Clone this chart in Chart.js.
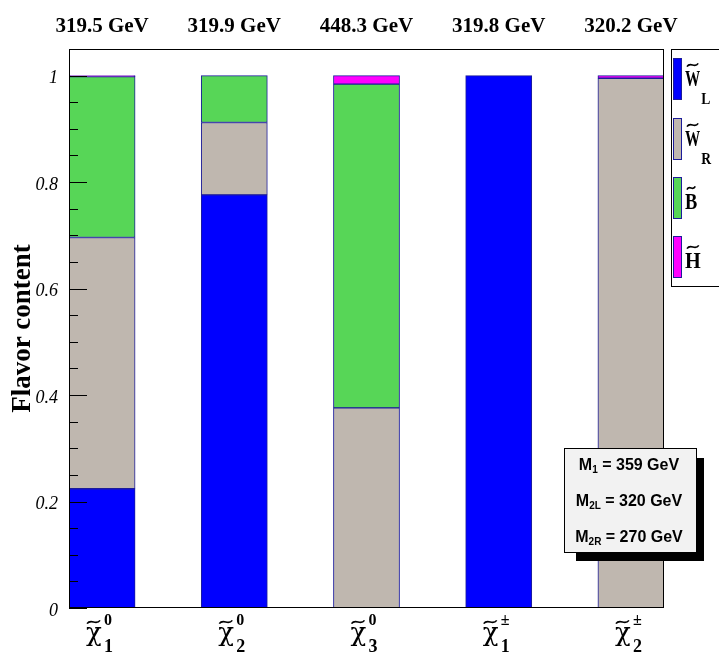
<!DOCTYPE html>
<html>
<head>
<meta charset="utf-8">
<script src="https://cdn.jsdelivr.net/npm/chart.js@4.4.0/dist/chart.umd.min.js"></script>
<style>
html, body { margin: 0; padding: 0; background: #fff; }
#wrap { width: 719px; height: 653px; position: relative; }
</style>
</head>
<body>
<div id="wrap"><canvas id="flavorChart"></canvas></div>
<script>
// particles: chi~ with superscript / subscript
var supLabels = ['0', '0', '0', '\u00b1', '\u00b1'];
var subLabels = ['1', '2', '3', '1', '2'];
var masses = ['319.5 GeV', '319.9 GeV', '448.3 GeV', '319.8 GeV', '320.2 GeV'];

// flavor content of each state
var winoL = [0.224, 0.776, 0, 1.0, 0];
var winoR = [0.472, 0.136, 0.376, 0, 0.995];
var bino = [0.302, 0.088, 0.608, 0, 0];
var higgsino = [0.002, 0, 0.016, 0, 0.005];

var yTicks = [0, 0.2, 0.4, 0.6, 0.8, 1];

var legendBase = ['W', 'W', 'B', 'H'];
var legendSub = ['L', 'R', '', ''];

var paramName = ['M', 'M', 'M'];
var paramSub = ['1', '2L', '2R'];
var paramValue = [' = 359 GeV', ' = 320 GeV', ' = 270 GeV'];

var colors = ['#0000ff', '#bfb7af', '#57d657', '#ff00ff'];
var edge = '#1c1c9a';
var serif = '"Liberation Serif", "Times New Roman", serif';
var sans = '"Liberation Sans", Arial, sans-serif';

// every bar is followed by an empty slot of the same width
function toSlots(arr) {
    var out = [];
    arr.forEach(function (v, i) {
        out.push(v);
        if (i < arr.length - 1) out.push(null);
    });
    return out;
}

function tilde(ctx, x0, x1, cy) {
    var w = x1 - x0, a = 1.6;
    ctx.save();
    ctx.lineWidth = 1.6;
    ctx.strokeStyle = '#000';
    ctx.beginPath();
    ctx.moveTo(x0, cy + a);
    ctx.bezierCurveTo(x0 + w * 0.3, cy - a * 2.4, x0 + w * 0.7, cy + a * 2.4, x1, cy - a);
    ctx.stroke();
    ctx.restore();
}

// letter squeezed horizontally, returns drawn width
function squeezed(ctx, txt, x0, base, sx) {
    var w = ctx.measureText(txt).width * sx;
    ctx.save();
    ctx.translate(x0, base);
    ctx.scale(sx, 1);
    ctx.fillText(txt, 0, 0);
    ctx.restore();
    return w;
}

var decorPlugin = {
    id: 'decor',
    afterDatasetsDraw: function (chart) {
        var ctx = chart.ctx, a = chart.chartArea, y = chart.scales.y;
        ctx.save();
        ctx.strokeStyle = '#000';
        ctx.lineWidth = 1;
        // inner ticks, minor every 0.05
        for (var k = 0; k <= 20; k++) {
            var py = Math.round(y.getPixelForValue(k * 0.05)) + 0.5;
            var len = (k % 4 === 0) ? 18 : 9;
            ctx.beginPath();
            ctx.moveTo(a.left, py);
            ctx.lineTo(a.left + len, py);
            ctx.stroke();
        }
        // frame
        ctx.strokeRect(a.left + 0.5, a.top + 0.5, a.right - a.left - 1, a.bottom - a.top - 1);
        ctx.restore();
    },
    afterDraw: function (chart) {
        var ctx = chart.ctx, x = chart.scales.x;
        ctx.save();
        ctx.fillStyle = '#000';

        // masses above the bars
        ctx.font = 'bold 21px ' + serif;
        ctx.textAlign = 'center';
        ctx.textBaseline = 'alphabetic';
        masses.forEach(function (m, i) {
            ctx.fillText(m, x.getPixelForValue(2 * i), 32);
        });

        // particle names below the bars
        ctx.textAlign = 'left';
        supLabels.forEach(function (sup, i) {
            var cx = x.getPixelForValue(2 * i);
            ctx.font = '26px "DejaVu Serif", serif';
            ctx.fillText('\u03c7', cx - 16, 641);
            tilde(ctx, cx - 15, cx - 2, 622);
            ctx.font = 'bold 16px ' + serif;
            ctx.fillText(sup, cx + 2, 625);
            ctx.font = 'bold 18px ' + serif;
            ctx.fillText(subLabels[i], cx + 2, 652);
        });

        // legend
        ctx.fillStyle = '#fff';
        ctx.fillRect(671.5, 49.5, 60, 237);
        ctx.strokeStyle = '#000';
        ctx.lineWidth = 1;
        ctx.strokeRect(671.5, 49.5, 60, 237);
        var tops = [58, 118, 177, 236];
        var squeeze = { W: 0.66, B: 0.8, H: 0.88 };
        legendBase.forEach(function (b, i) {
            var t = tops[i];
            ctx.fillStyle = colors[i];
            ctx.fillRect(673, t, 9, 42);
            ctx.strokeStyle = edge;
            ctx.strokeRect(673.5, t + 0.5, 8, 41);
            ctx.fillStyle = '#000';
            var base = t + (legendSub[i] ? 28 : 32);
            ctx.font = 'bold 23px ' + serif;
            var w = squeezed(ctx, b, 685, base, squeeze[b]);
            tilde(ctx, 687, 685 + w - 2, base - 21);
            if (legendSub[i]) {
                ctx.font = 'bold 16px ' + serif;
                squeezed(ctx, legendSub[i], 685 + w + 1, base + 18, 0.85);
            }
        });

        // parameter box with shadow
        ctx.fillStyle = '#000';
        ctx.fillRect(576, 458, 128, 103);
        ctx.fillStyle = '#f2f2f2';
        ctx.fillRect(564, 448, 133, 105);
        ctx.strokeStyle = '#000';
        ctx.strokeRect(564.5, 448.5, 132, 104);
        var bases = [470, 506, 542];
        paramName.forEach(function (n, i) {
            ctx.font = 'bold 16px ' + sans;
            var w1 = ctx.measureText(n).width;
            var w3 = ctx.measureText(paramValue[i]).width;
            ctx.font = 'bold 10px ' + sans;
            var w2 = ctx.measureText(paramSub[i]).width;
            var x0 = 629 - (w1 + w2 + w3) / 2;
            ctx.fillStyle = '#000';
            ctx.font = 'bold 16px ' + sans;
            ctx.fillText(n, x0, bases[i]);
            ctx.fillText(paramValue[i], x0 + w1 + w2, bases[i]);
            ctx.font = 'bold 10px ' + sans;
            ctx.fillText(paramSub[i], x0 + w1, bases[i] + 3);
        });
        ctx.restore();
    }
};

function makeSet(label, values, color) {
    return {
        label: label,
        data: toSlots(values),
        backgroundColor: color,
        borderColor: edge,
        borderWidth: 1,
        borderSkipped: false,
        barPercentage: 1,
        categoryPercentage: 1
    };
}

var ctxFlavor = document.getElementById('flavorChart').getContext('2d');
var chartFlavor = new Chart(ctxFlavor, {
    type: 'bar',
    data: {
        labels: toSlots(masses).map(function (m, i) { return m || ('gap' + i); }),
        datasets: [
            makeSet('W~L', winoL, colors[0]),
            makeSet('W~R', winoR, colors[1]),
            makeSet('B~', bino, colors[2]),
            makeSet('H~', higgsino, colors[3])
        ]
    },
    options: {
        responsive: true,
        maintainAspectRatio: false,
        animation: false,
        layout: { padding: { left: 0, right: 55, top: 49, bottom: 45 } },
        plugins: {
            legend: { display: false },
            tooltip: { enabled: false }
        },
        scales: {
            x: {
                stacked: true,
                display: false,
                offset: true
            },
            y: {
                stacked: true,
                min: 0,
                max: 1.05,
                border: { display: false },
                grid: { display: false, drawTicks: false, tickLength: 0 },
                afterBuildTicks: function (scale) {
                    scale.ticks = yTicks.map(function (v) { return { value: v }; });
                },
                afterFit: function (scale) {
                    scale.width = 69;
                },
                ticks: {
                    padding: 11,
                    labelOffset: 3,
                    color: '#000',
                    font: { family: serif, size: 18, style: 'italic' },
                    callback: function (v) { return String(v); }
                },
                title: {
                    display: true,
                    text: 'Flavor content',
                    color: '#000',
                    padding: { top: 7, bottom: 0 },
                    font: { family: serif, size: 27, weight: 'bold' }
                }
            }
        }
    },
    plugins: [decorPlugin]
});
</script>
</body>
</html>
